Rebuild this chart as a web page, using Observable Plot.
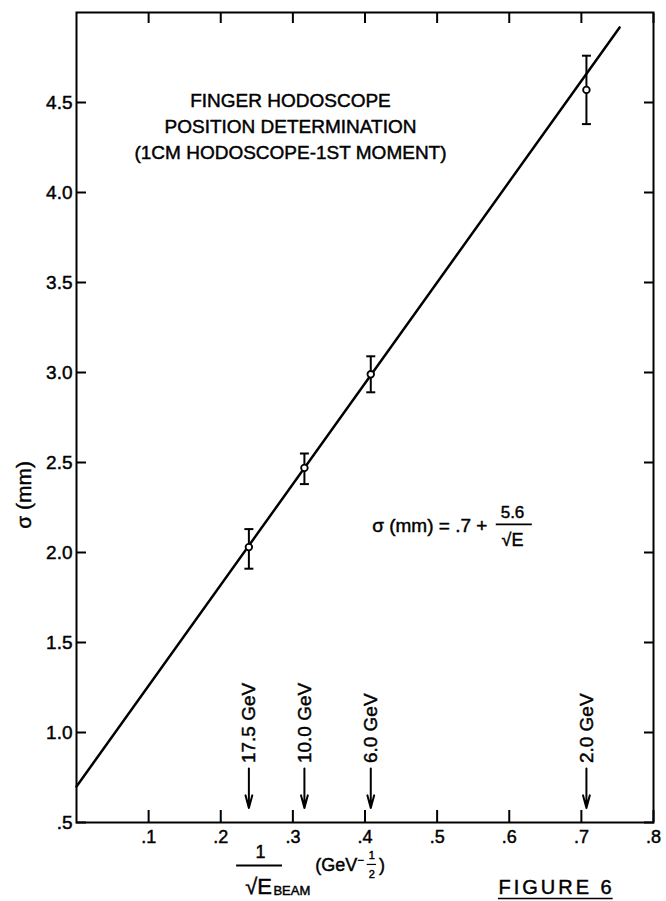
<!DOCTYPE html>
<html>
<head>
<meta charset="utf-8">
<script src="https://cdn.jsdelivr.net/npm/d3@7"></script>
<script src="https://cdn.jsdelivr.net/npm/@observablehq/plot@0.6"></script>
<style>
  html, body { margin: 0; padding: 0; background: white; }
  #chart svg text { stroke: black; stroke-width: 0.45px; }
</style>
</head>
<body>
<div id="chart"></div>
<script>
// ---- data ----
const energyLabels = ["17.5 GeV", "10.0 GeV", "6.0 GeV", "2.0 GeV"];
const invSqrtE     = [0.239, 0.316, 0.408, 0.707];
const sigmaMm      = [2.03, 2.47, 2.99, 4.57];
const sigmaLow     = [1.91, 2.38, 2.89, 4.38];
const sigmaHigh    = [2.13, 2.55, 3.09, 4.76];

// fitted line sigma = .7 + 5.6/sqrt(E) as drawn (end points)
const fitX = [0, 0.753];
const fitY = [0.7, 4.917];

const xTicks = [0.1, 0.2, 0.3, 0.4, 0.5, 0.6, 0.7, 0.8];
const xTickLabels = [".1", ".2", ".3", ".4", ".5", ".6", ".7", ".8"];
const yTicks = [0.5, 1.0, 1.5, 2.0, 2.5, 3.0, 3.5, 4.0, 4.5];
const yTickLabels = [".5", "1.0", "1.5", "2.0", "2.5", "3.0", "3.5", "4.0", "4.5"];

const titleLines = ["FINGER HODOSCOPE", "POSITION DETERMINATION", "(1CM HODOSCOPE-1ST MOMENT)"];

// ---- tables ----
const points = invSqrtE.map((x, i) => ({x, y: sigmaMm[i], lo: sigmaLow[i], hi: sigmaHigh[i], label: energyLabels[i]}));
const fit = fitX.map((x, i) => ({x, y: fitY[i]}));

const capSymbol = {
  draw(ctx, size) {
    const w = Math.sqrt(size / Math.PI);
    ctx.moveTo(-w, 0);
    ctx.lineTo(w, 0);
  }
};

const font = "'Liberation Sans', Arial, sans-serif";

const chart = Plot.plot({
  width: 666,
  height: 901,
  marginTop: 12,
  marginRight: 13,
  marginBottom: 79,
  marginLeft: 76,
  style: {fontFamily: font, color: "black", background: "white", overflow: "visible"},
  x: {domain: [0, 0.8]},
  y: {domain: [0.5, 5.0]},
  marks: [
    // axes with inward ticks
    Plot.axisX(xTicks, {anchor: "bottom", tickSize: -12, tickPadding: 20, strokeWidth: 2,
      tickFormat: d => xTickLabels[xTicks.indexOf(d)], fontSize: 18, label: null}),
    Plot.axisX(xTicks, {anchor: "top", tickSize: -10, strokeWidth: 2, tickFormat: () => "", label: null}),
    Plot.axisY(yTicks, {anchor: "left", tickSize: -10, tickPadding: 14, strokeWidth: 2,
      tickFormat: d => yTickLabels[yTicks.indexOf(d)], fontSize: 19, label: null}),
    Plot.axisY(yTicks, {anchor: "right", tickSize: -10, strokeWidth: 2, tickFormat: () => "", label: null}),
    Plot.frame({strokeWidth: 2}),

    // fit line
    Plot.line(fit, {x: "x", y: "y", strokeWidth: 2.5}),

    // error bars
    Plot.ruleX(points, {x: "x", y1: "lo", y2: "hi", strokeWidth: 2}),
    Plot.dot(points, {x: "x", y: "lo", symbol: capSymbol, r: 4.5, stroke: "black", fill: "none", strokeWidth: 2}),
    Plot.dot(points, {x: "x", y: "hi", symbol: capSymbol, r: 4.5, stroke: "black", fill: "none", strokeWidth: 2}),
    Plot.dot(points, {x: "x", y: "y", r: 3.3, fill: "white", stroke: "black", strokeWidth: 1.8}),

    // energy arrows and labels
    Plot.arrow(points, {x1: "x", x2: "x", y1: 0.80, y2: 0.58, strokeWidth: 2, headLength: 12, headAngle: 30}),
    Plot.text(points, {x: "x", y: 0.83, text: "label", rotate: -90, textAnchor: "start", fontSize: 19}),

    // title block
    Plot.text(titleLines, {x: 0.2967, y: (d, i) => [4.511, 4.367, 4.222][i], text: d => d, fontSize: 19}),

    // formula
    Plot.text(["σ (mm) = .7 +"], {x: 0.41, y: 2.15, text: d => d, textAnchor: "start", fontSize: 19}),
    Plot.text(["5.6"], {x: 0.6045, y: 2.222, text: d => d, fontSize: 17}),
    Plot.ruleY([2.156], {x1: 0.582, x2: 0.632, strokeWidth: 1.6}),
    Plot.text(["√E"], {x: 0.6045, y: 2.067, text: d => d, fontSize: 18}),

    // y-axis title
    Plot.text(["σ (mm)"], {x: -0.073, y: 2.32, text: d => d, rotate: -90, fontSize: 21}),

    // x-axis title: 1/sqrt(E_BEAM) (GeV^-1/2)
    Plot.text(["1"], {x: 0.255, y: 0.333, text: d => d, fontSize: 18}),
    Plot.ruleY([0.261], {x1: 0.222, x2: 0.2856, strokeWidth: 2}),
    Plot.text(["√E"], {x: 0.2525, y: 0.144, text: d => d, fontSize: 22}),
    Plot.text(["BEAM"], {x: 0.273, y: 0.122, text: d => d, textAnchor: "start", fontSize: 13}),
    Plot.text(["(GeV"], {x: 0.331, y: 0.261, text: d => d, textAnchor: "start", fontSize: 18}),
    Plot.text(["−"], {x: 0.394, y: 0.289, text: d => d, fontSize: 11}),
    Plot.text(["1"], {x: 0.4095, y: 0.317, text: d => d, fontSize: 11}),
    Plot.ruleY([0.267], {x1: 0.403, x2: 0.416, strokeWidth: 1.2}),
    Plot.text(["2"], {x: 0.4095, y: 0.214, text: d => d, fontSize: 11}),
    Plot.text([")"], {x: 0.4195, y: 0.261, text: d => d, textAnchor: "start", fontSize: 18}),

    // figure caption
    Plot.text(["FIGURE 6"], {x: 0.585, y: 0.139, text: d => d, textAnchor: "start", fontSize: 20}),
    Plot.ruleY([0.078], {x1: 0.585, x2: 0.744, strokeWidth: 1.5})
  ]
});

document.getElementById("chart").appendChild(chart);
d3.select(chart).selectAll("text")
  .filter(function() { return this.textContent === "FIGURE 6"; })
  .attr("letter-spacing", 3);
</script>
</body>
</html>
